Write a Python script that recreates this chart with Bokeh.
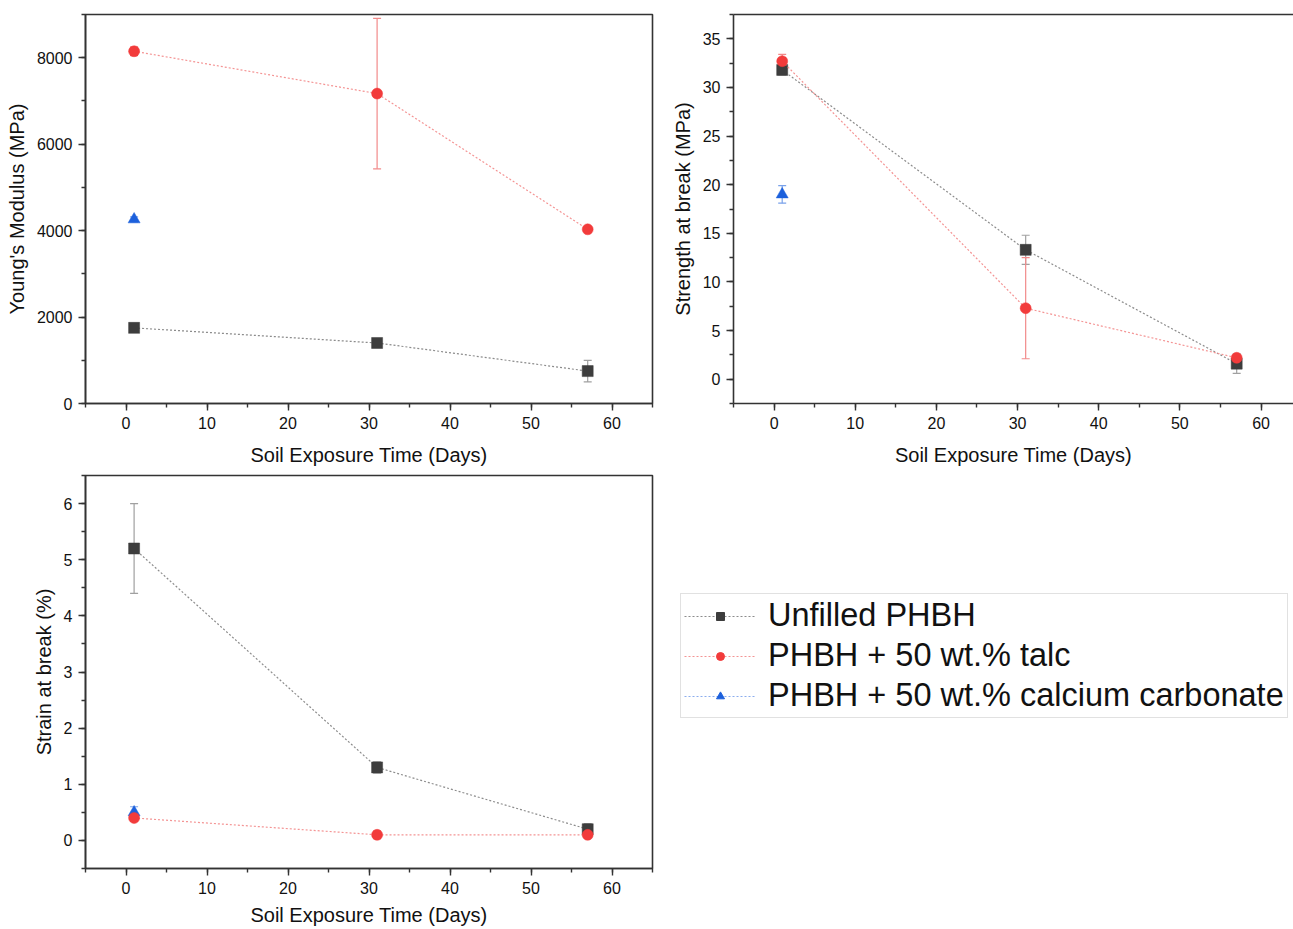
from bokeh.plotting import figure
from bokeh.models import (ColumnDataSource, Whisker, TeeHead, SingleIntervalTicker, Range1d,
                          Legend, LegendItem, LinearAxis, FixedTicker)
from bokeh.layouts import row, column
from bokeh.embed import file_html
from bokeh.resources import INLINE

# ---------------- data ----------------
days = [1, 31, 57]
days_caco3 = [1]

series_names = ["Unfilled PHBH", "PHBH + 50 wt.% talc", "PHBH + 50 wt.% calcium carbonate"]

modulus_unfilled = [1750, 1400, 750]
modulus_unfilled_err = [50, 60, 250]
modulus_talc = [8150, 7170, 4030]
modulus_talc_err = [100, 1740, 50]
modulus_caco3 = [4260]
modulus_caco3_err = [60]

strength_unfilled = [31.8, 13.3, 1.6]
strength_unfilled_err = [0.5, 1.5, 1.0]
strength_talc = [32.7, 7.3, 2.2]
strength_talc_err = [0.7, 5.2, 0.3]
strength_caco3 = [19.0]
strength_caco3_err = [0.9]

strain_unfilled = [5.2, 1.3, 0.2]
strain_unfilled_err = [0.8, 0.1, 0.1]
strain_talc = [0.4, 0.1, 0.1]
strain_talc_err = [0.06, 0.07, 0.04]
strain_caco3 = [0.5]
strain_caco3_err = [0.1]

# ---------------- styles ----------------
FONT = "Liberation Sans"
STY = {
    "unfilled": dict(marker="square", color="#3d3d3d", line="#8c8c8c", err="#a0a0a0", size=11),
    "talc": dict(marker="circle", color="#f23b3b", line="#f49494", err="#f28a8a", size=11),
    "caco3": dict(marker="triangle", color="#1c60dc", line="#8cadee", err="#7aa2ea", size=12),
}


def make_fig(width, height, xr, yr, ytick, mbl, mbr, mbt, mbb, ylabel, outline=True, xtitle_standoff=12):
    p = figure(width=width, height=height, x_range=Range1d(*xr), y_range=Range1d(*yr),
               output_backend="svg", toolbar_location=None,
               min_border_left=mbl, min_border_right=mbr, min_border_top=mbt, min_border_bottom=mbb)
    p.xgrid.visible = False
    p.ygrid.visible = False
    p.background_fill_color = "white"
    p.border_fill_color = "white"
    p.xaxis.ticker = SingleIntervalTicker(interval=10, num_minor_ticks=2)
    p.yaxis.ticker = SingleIntervalTicker(interval=ytick, num_minor_ticks=2)
    for ax in (p.xaxis, p.yaxis):
        ax.axis_line_color = "#333333"
        ax.axis_line_width = 1.6
        ax.major_tick_line_color = "#333333"
        ax.minor_tick_line_color = "#333333"
        ax.major_tick_line_width = 1.4
        ax.minor_tick_line_width = 1.4
        ax.major_tick_in = 0
        ax.major_tick_out = 7
        ax.minor_tick_in = 0
        ax.minor_tick_out = 4
        ax.major_label_text_font = FONT
        ax.major_label_text_font_size = "16px"
        ax.major_label_text_color = "#111111"
        ax.axis_label_text_font = FONT
        ax.axis_label_text_font_size = "20px"
        ax.axis_label_text_font_style = "normal"
        ax.axis_label_text_color = "#111111"
        ax.major_label_standoff = 6
    p.xaxis.axis_label_standoff = xtitle_standoff
    p.yaxis.axis_label_standoff = 6
    p.xaxis.axis_label = "Soil Exposure Time (Days)"
    p.yaxis.axis_label = ylabel
    if outline:
        p.outline_line_color = "#333333"
        p.outline_line_width = 1.6
        p.outline_line_alpha = 1
    else:
        p.outline_line_color = None
    return p


def add_series(p, x, y, err, key, with_line=True):
    s = STY[key]
    lower = [v - e for v, e in zip(y, err)]
    upper = [v + e for v, e in zip(y, err)]
    src = ColumnDataSource(dict(x=x, y=y, lower=lower, upper=upper))
    if with_line and len(x) > 1:
        p.line("x", "y", source=src, line_color=s["line"], line_width=1.2, line_dash="2 2")
    w = Whisker(base="x", lower="lower", upper="upper", source=src, dimension="height",
                line_color=s["err"], line_width=1.2,
                upper_head=TeeHead(size=8, line_color=s["err"], line_width=1.2),
                lower_head=TeeHead(size=8, line_color=s["err"], line_width=1.2))
    p.add_layout(w)
    p.scatter("x", "y", source=src, marker=s["marker"], size=s["size"],
              fill_color=s["color"], line_color=s["color"], line_width=0.5)


# ---------------- panel 1: Young's modulus ----------------
p1 = make_fig(668, 468, (-5, 65), (0, 9000), 2000, 85, 16, 14, 58, "Young's Modulus (MPa)")
add_series(p1, days_caco3, modulus_caco3, modulus_caco3_err, "caco3")
add_series(p1, days, modulus_unfilled, modulus_unfilled_err, "unfilled")
add_series(p1, days, modulus_talc, modulus_talc_err, "talc")

# ---------------- panel 2: strength at break ----------------
p2 = make_fig(625, 468, (-5, 64.0), (-2.5, 37.5), 5, 65, 0, 14, 58, "Strength at break (MPa)", outline=False)
top_ax = LinearAxis(ticker=FixedTicker(ticks=[]), major_label_text_font_size="0px",
                    axis_line_color="#333333", axis_line_width=1.6,
                    major_tick_out=0, minor_tick_out=0, major_tick_in=0, minor_tick_in=0)
p2.add_layout(top_ax, "above")
add_series(p2, days_caco3, strength_caco3, strength_caco3_err, "caco3")
add_series(p2, days, strength_unfilled, strength_unfilled_err, "unfilled")
add_series(p2, days, strength_talc, strength_talc_err, "talc")

# ---------------- panel 3: strain at break ----------------
p3 = make_fig(668, 460, (-5, 65), (-0.5, 6.5), 1, 85, 16, 7, 58, "Strain at break (%)", xtitle_standoff=7)
add_series(p3, days_caco3, strain_caco3, strain_caco3_err, "caco3")
add_series(p3, days, strain_unfilled, strain_unfilled_err, "unfilled")
add_series(p3, days, strain_talc, strain_talc_err, "talc")

# ---------------- legend panel ----------------
p4 = figure(width=625, height=460, x_range=Range1d(-1000, -999), y_range=Range1d(-1000, -999),
            output_backend="svg", toolbar_location=None, min_border=0)
p4.axis.visible = False
p4.xgrid.visible = False
p4.ygrid.visible = False
p4.outline_line_color = None

items = []
for name, key, xs, ys in [(series_names[0], "unfilled", days, strain_unfilled),
                          (series_names[1], "talc", days, strain_talc),
                          (series_names[2], "caco3", days_caco3, strain_caco3)]:
    s = STY[key]
    lr = p4.line(xs, ys, line_color=s["line"], line_width=1.2, line_dash="2 2")
    sr = p4.scatter(xs, ys, marker=s["marker"], size=s["size"] - 3,
                    fill_color=s["color"], line_color=s["color"])
    items.append(LegendItem(label=name, renderers=[lr, sr]))

legend = Legend(items=items, location=(12, 150))
legend.label_text_font = FONT
legend.label_text_font_size = "32.5px"
legend.label_text_color = "#111111"
legend.glyph_width = 72
legend.glyph_height = 20
legend.label_standoff = 12
legend.padding = 3
legend.spacing = 3
legend.margin = 0
legend.border_line_color = "#c4c4c4"
legend.border_line_width = 1.5
legend.background_fill_color = "white"
legend.background_fill_alpha = 1
p4.add_layout(legend)

layout = column(row(p1, p2), row(p3, p4))

open("out.html", "w").write(file_html(layout, INLINE))
